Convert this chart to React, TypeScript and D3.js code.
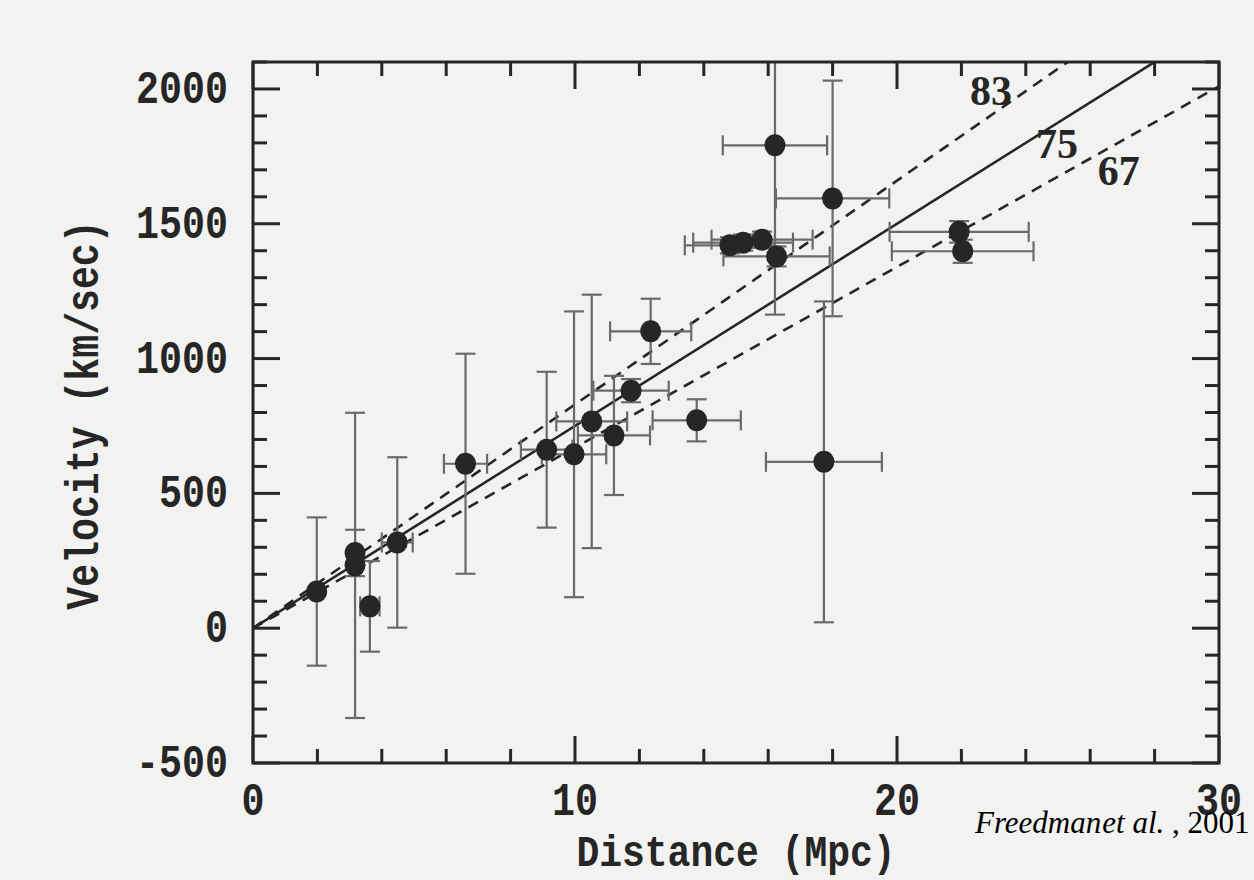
import React from 'react';
import * as d3 from 'd3';

// Galaxy distances (Mpc) and recession velocities (km/s) with 1-sigma errors
const distance = [1.98, 3.17, 3.17, 3.63, 4.48, 6.6, 9.12, 9.97, 10.52, 11.21, 11.74, 12.35, 13.78, 14.81, 15.22, 15.81, 16.21, 16.26, 17.73, 18.0, 21.93, 22.04];
const velocity = [136, 233, 279, 81, 318, 610, 662, 645, 767, 715, 881, 1101, 771, 1420, 1430, 1441, 1791, 1379, 617, 1594, 1470, 1398];
const distanceError = [0, 0, 0, 0.3, 0.48, 0.67, 0.8, 1.0, 1.1, 1.12, 1.17, 1.26, 1.37, 1.4, 1.55, 1.57, 1.62, 1.65, 1.8, 1.76, 2.16, 2.2];
const velocityError = [275, 566, 86, 168, 316, 408, 289, 530, 470, 221, 43, 121, 78, 30, 30, 30, 628, 37, 595, 437, 40, 43];

const hubbleConstants = [83, 75, 67];
const hubbleDashed = [true, false, true];
const hubbleLabelDistance = [22.92, 24.97, 26.89];
const hubbleLabelVelocity = [1993, 1796, 1696];

const xMajorTicks = [0, 10, 20, 30];
const yMajorTicks = [-500, 0, 500, 1000, 1500, 2000];
const xTitle = 'Distance (Mpc)';
const yTitle = 'Velocity (km/sec)';
const creditItalic = 'Freedman';
const creditItalic2 = 'et al.';
const creditRoman = ' , 2001';

export default function App() {
  const W = 1254, H = 880;
  const left = 253, right = 1219, top = 62, bottom = 763;
  const x = d3.scaleLinear().domain([0, 30]).range([left, right]);
  const y = d3.scaleLinear().domain([-500, 2100]).range([bottom, top]);
  const xMinor = d3.range(0, 30.001, 2).filter(v => Math.round(v) % 10 !== 0);
  const yMinor = d3.range(-500, 2100.001, 100).filter(v => Math.round(v) % 500 !== 0);
  const ink = '#262626';
  const barColor = '#6a6a6a';
  const monoFont = '"Liberation Mono", "Courier New", monospace';
  const charW = 23;
  const majorLen = 27, minorLen = 14;
  const cap = 10;

  const line = d3.line<[number, number]>().x(d => x(d[0])).y(d => y(d[1]));

  return (
    <svg width={W} height={H} style={{ position: 'absolute', left: 0, top: 0, display: 'block' }}>
      <defs>
        <clipPath id="plotClip">
          <rect x={left} y={top} width={right - left} height={bottom - top} />
        </clipPath>
      </defs>
      <rect x={0} y={0} width={W} height={H} fill="#f2f2f0" />

      {/* Hubble law lines */}
      <g clipPath="url(#plotClip)">
        {hubbleConstants.map((h, i) => (
          <path key={'h' + i}
            d={line([[0, 0], [30, 30 * h]]) || ''}
            fill="none" stroke={ink} strokeWidth={2.6}
            strokeDasharray={hubbleDashed[i] ? '11,8' : undefined} />
        ))}
      </g>

      {/* Error bars */}
      <g clipPath="url(#plotClip)" stroke={barColor} strokeWidth={2.2} fill="none">
        {distance.map((d, i) => {
          const cx = x(d), cy = y(velocity[i]);
          const ve = velocityError[i], de = distanceError[i];
          const els: any[] = [];
          if (ve > 0) {
            const y1 = y(velocity[i] + ve), y2 = y(velocity[i] - ve);
            els.push(<line key="v" x1={cx} x2={cx} y1={y1} y2={y2} />);
            els.push(<line key="vc1" x1={cx - cap} x2={cx + cap} y1={y1} y2={y1} />);
            els.push(<line key="vc2" x1={cx - cap} x2={cx + cap} y1={y2} y2={y2} />);
          }
          if (de > 0) {
            const x1 = x(d - de), x2 = x(d + de);
            els.push(<line key="h" x1={x1} x2={x2} y1={cy} y2={cy} />);
            els.push(<line key="hc1" x1={x1} x2={x1} y1={cy - cap} y2={cy + cap} />);
            els.push(<line key="hc2" x1={x2} x2={x2} y1={cy - cap} y2={cy + cap} />);
          }
          return <g key={'e' + i}>{els}</g>;
        })}
      </g>

      {/* Points */}
      <g fill={ink}>
        {distance.map((d, i) => (
          <ellipse key={'p' + i} cx={x(d)} cy={y(velocity[i])} rx={10.5} ry={11} />
        ))}
      </g>

      {/* Frame */}
      <rect x={left} y={top} width={right - left} height={bottom - top} fill="none" stroke={ink} strokeWidth={3} />

      {/* Ticks */}
      <g stroke={ink} strokeWidth={3}>
        {xMajorTicks.map(t => (
          <g key={'xm' + t}>
            <line x1={x(t)} x2={x(t)} y1={bottom} y2={bottom - majorLen} />
            <line x1={x(t)} x2={x(t)} y1={top} y2={top + majorLen} />
          </g>
        ))}
        {xMinor.map(t => (
          <g key={'xn' + t}>
            <line x1={x(t)} x2={x(t)} y1={bottom} y2={bottom - minorLen} />
            <line x1={x(t)} x2={x(t)} y1={top} y2={top + minorLen} />
          </g>
        ))}
        {yMajorTicks.map(t => (
          <g key={'ym' + t}>
            <line x1={left} x2={left + majorLen} y1={y(t)} y2={y(t)} />
            <line x1={right} x2={right - majorLen} y1={y(t)} y2={y(t)} />
          </g>
        ))}
        {yMinor.map(t => (
          <g key={'yn' + t}>
            <line x1={left} x2={left + minorLen} y1={y(t)} y2={y(t)} />
            <line x1={right} x2={right - minorLen} y1={y(t)} y2={y(t)} />
          </g>
        ))}
      </g>

      {/* Tick labels */}
      <g fill={ink} fontFamily={monoFont} fontSize={47} fontWeight="bold">
        {yMajorTicks.map(t => {
          const s = String(t);
          return (
            <text key={'yl' + t} x={228} y={y(t) + 14} textAnchor="end"
              textLength={s.length * charW} lengthAdjust="spacingAndGlyphs">{s}</text>
          );
        })}
        {xMajorTicks.map(t => {
          const s = String(t);
          return (
            <text key={'xl' + t} x={x(t)} y={815} textAnchor="middle"
              textLength={s.length * charW} lengthAdjust="spacingAndGlyphs">{s}</text>
          );
        })}
        <text x={(left + right) / 2} y={866} textAnchor="middle" fontSize={45}
          textLength={xTitle.length * 22.8} lengthAdjust="spacingAndGlyphs">{xTitle}</text>
        <text transform={`translate(98, ${415}) rotate(-90)`} textAnchor="middle"
          textLength={yTitle.length * 22.9} lengthAdjust="spacingAndGlyphs">{yTitle}</text>
      </g>

      {/* Hubble constant labels */}
      <g fill={ink} fontFamily='"Liberation Serif", "Times New Roman", serif' fontSize={42} fontWeight="bold">
        {hubbleConstants.map((h, i) => (
          <text key={'hl' + i} x={x(hubbleLabelDistance[i])} y={y(hubbleLabelVelocity[i]) + 14}
            textAnchor="middle">{String(h)}</text>
        ))}
      </g>

      {/* Credit */}
      <text x={975} y={833} fontFamily='"Liberation Serif", "Times New Roman", serif' fontSize={31} fill="#000">
        <tspan fontStyle="italic">{creditItalic}</tspan>
        <tspan fontStyle="italic" dx={1}>{creditItalic2}</tspan>
        <tspan>{creditRoman}</tspan>
      </text>
    </svg>
  );
}
